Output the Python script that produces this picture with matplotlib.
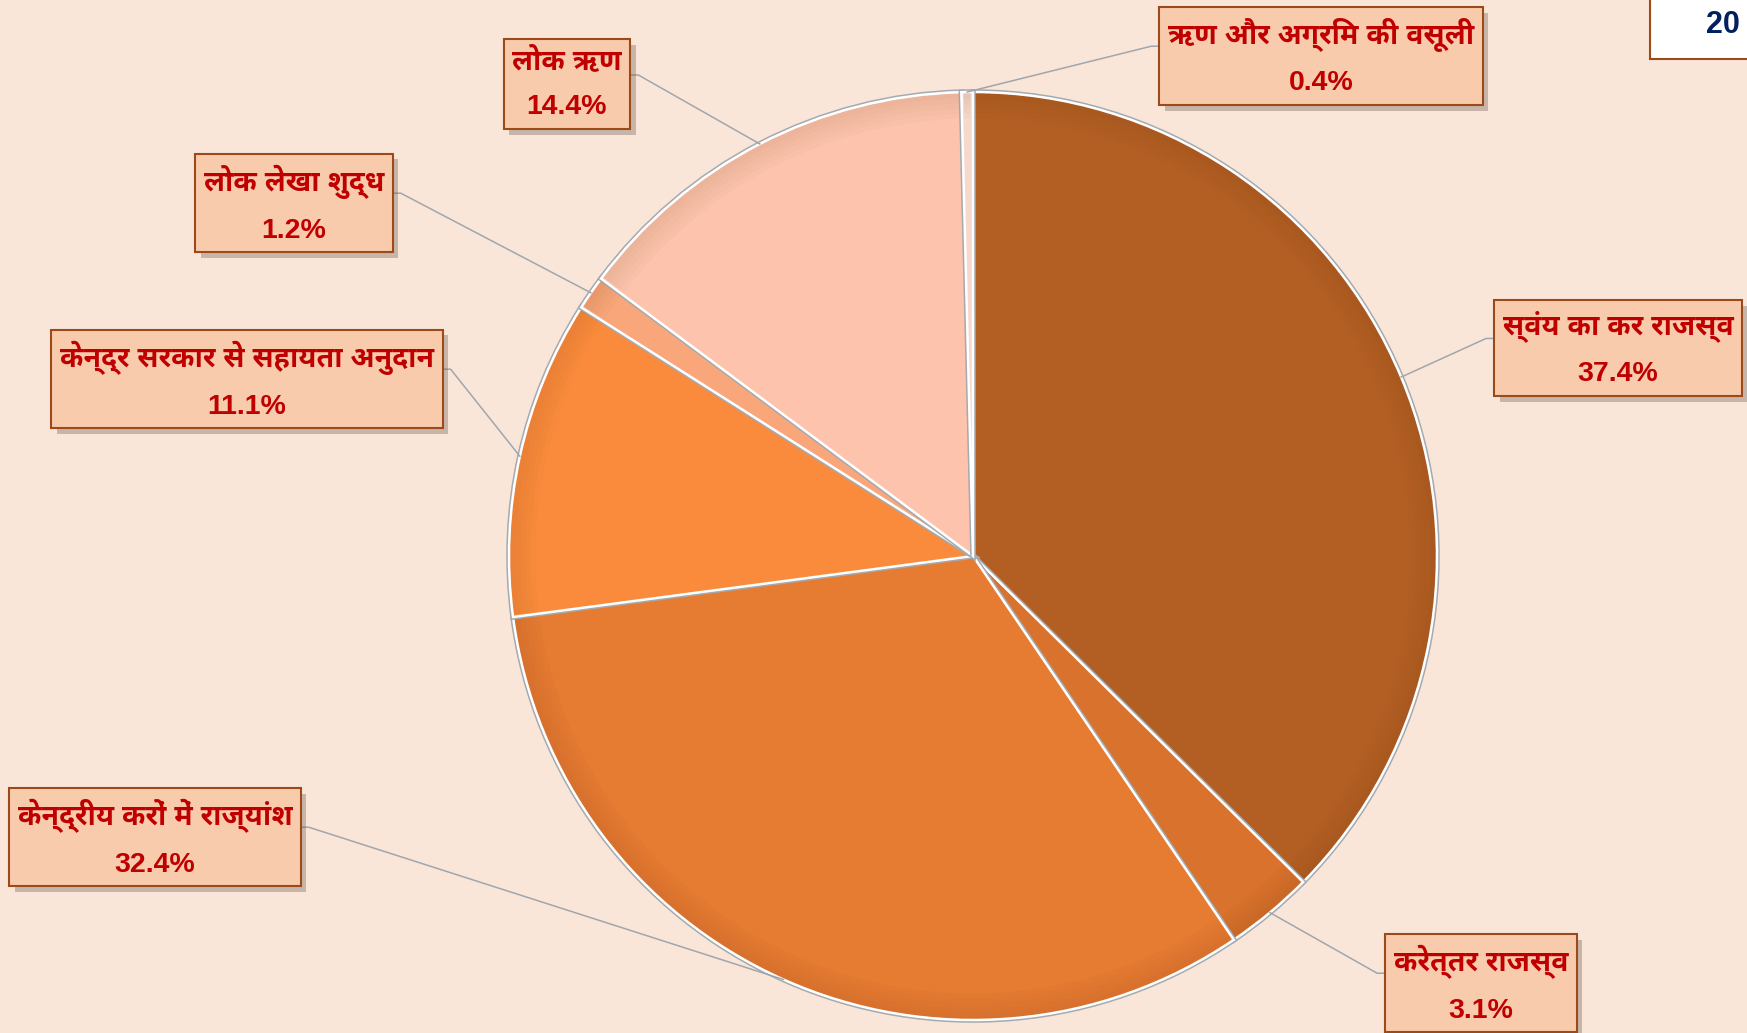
import matplotlib
matplotlib.use("Agg")
import numpy as np
import matplotlib.pyplot as plt
from matplotlib import patheffects as pe
from matplotlib.patches import Rectangle, Wedge

# shares of receipts (%), clockwise from 12 o'clock
labels = ["स्वंय का कर राजस्व", "करेत्तर राजस्व", "केन्द्रीय करों में राज्यांश",
          "केन्द्र सरकार से सहायता अनुदान", "लोक लेखा शुद्ध", "लोक ऋण",
          "ऋण और अग्रिम की वसूली"]
shares = [37.4, 3.1, 32.4, 11.1, 1.2, 14.4, 0.4]
colors = ["#B35F24", "#D8722C", "#E67B32", "#FB8B3C", "#F9A77A", "#FDC3AD", "#F6D9CC"]

# label box centres in pixels (y measured from the top) and side the leader leaves from
label_pos = [(1618, 349, "left"), (1481, 984, "left"), (155, 838, "right"),
             (247, 380, "right"), (294, 204, "right"), (567, 84, "right"),
             (1321, 57, "left")]

W, H = 1747, 1033
bg = "#FAE6D9"
font = ["Liberation Sans", "Noto Sans Devanagari UI", "Noto Sans Devanagari", "DejaVu Sans"]

fig = plt.figure(figsize=(W / 100, H / 100), dpi=100)
fig.patch.set_facecolor(bg)
ax = fig.add_axes([0, 0, 1, 1])
ax.set_facecolor(bg)

cx, cy, r = 973, H - 556, 464
wedges, _ = ax.pie(shares, colors=colors, startangle=90, counterclock=False,
                   center=(cx, cy), radius=r,
                   wedgeprops=dict(edgecolor="white", linewidth=1.8))
for w in wedges:
    w.set_path_effects([pe.Stroke(linewidth=4, foreground="#A3AAB0"), pe.Normal()])
    # soft darkening towards the rim for a slight bevelled look
    for k in range(1, 6):
        ax.add_patch(Wedge((cx, cy), r - 1.5, w.theta1 + 0.3, w.theta2 - 0.3,
                           width=5 * k, facecolor="#5A2A08", alpha=0.018,
                           linewidth=0, zorder=w.get_zorder() + 0.1))

ax.set_xlim(0, W)
ax.set_ylim(0, H)
ax.set_aspect("equal")
ax.axis("off")

texts = []
for lab, val, (lx, ly, side) in zip(labels, shares, label_pos):
    t = ax.text(lx, H - ly, f"{lab}\n{val}%", ha="center", va="center",
                multialignment="center", fontsize=20.5, fontweight="bold",
                family=font, color="#C00000", linespacing=1.95, zorder=5,
                bbox=dict(boxstyle="square,pad=0.3", facecolor="#F8CBAD",
                          edgecolor="#9C4A1A", linewidth=1.5))
    t.get_bbox_patch().set_path_effects(
        [pe.SimplePatchShadow(offset=(4, -4), shadow_rgbFace="#6B5B50", alpha=0.35),
         pe.Normal()])
    texts.append(t)

fig.canvas.draw()
renderer = fig.canvas.get_renderer()

# leader lines from each box to the middle of its slice on the rim
for w, t, (lx, ly, side) in zip(wedges, texts, label_pos):
    bb = t.get_bbox_patch().get_window_extent(renderer)
    mid = np.deg2rad((w.theta1 + w.theta2) / 2)
    ex, ey = cx + r * np.cos(mid), cy + r * np.sin(mid)
    by = bb.y0 + 0.6 * bb.height
    if side == "left":
        bx, kx = bb.x0, bb.x0 - 8
    else:
        bx, kx = bb.x1, bb.x1 + 8
    ax.plot([bx, kx, ex], [by, by, ey], color="#A0A6AC", linewidth=1.1, zorder=4)

# clipped title box in the top-right corner
ax.add_patch(Rectangle((1650, H - 59), 200, 120, facecolor="white",
                       edgecolor="#9C4A1A", linewidth=1.5, zorder=5))
ax.text(1706, H - 25, "20", ha="left", va="center", fontsize=22,
        fontweight="bold", family=font, color="#002060", zorder=6)

fig.savefig("out.png", dpi=100, facecolor=bg)
